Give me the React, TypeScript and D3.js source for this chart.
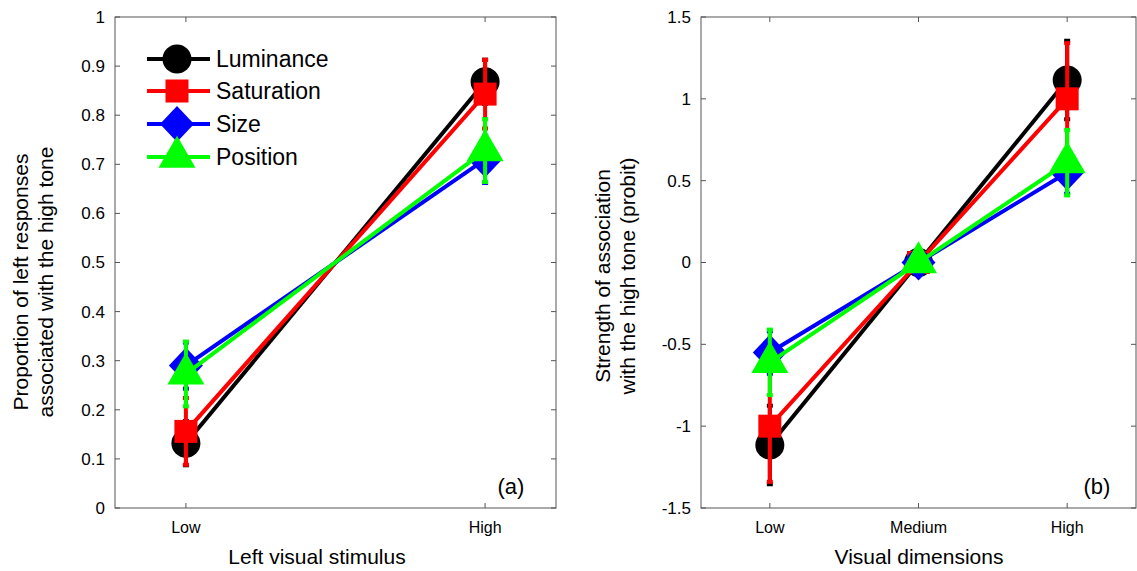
import React from "react";
import * as d3 from "d3";

// series shared by both panels
const seriesNames = ["Luminance", "Saturation", "Size", "Position"];
const seriesColors = ["#000000", "#ff0000", "#0000ff", "#00ff00"];
const seriesMarkers = ["circle", "square", "diamond", "triangle"];

// panel (a)
const catsA = ["Low", "High"];
const lumA = [0.132, 0.868];
const satA = [0.156, 0.843];
const sizeA = [0.29, 0.71];
const posA = [0.273, 0.728];
const lumAErr = [0.045, 0.045];
const satAErr = [0.068, 0.07];
const sizeAErr = [0.047, 0.048];
const posAErr = [0.066, 0.064];
const ticksA = [0, 0.1, 0.2, 0.3, 0.4, 0.5, 0.6, 0.7, 0.8, 0.9, 1];

// panel (b)
const catsB = ["Low", "Medium", "High"];
const lumB = [-1.115, 0, 1.115];
const satB = [-1.0, 0, 1.0];
const sizeB = [-0.55, 0, 0.55];
const posB = [-0.61, 0, 0.61];
const lumBErr = [0.24, 0, 0.24];
const satBErr = [0.34, 0, 0.34];
const sizeBErr = [0.13, 0, 0.13];
const posBErr = [0.2, 0, 0.2];
const ticksB = [-1.5, -1, -0.5, 0, 0.5, 1, 1.5];

const FONT = "'Liberation Sans', Arial, Helvetica, sans-serif";
const AXIS = "#555";

function Marker({ kind, x, y, color }: { kind: string; x: number; y: number; color: string }) {
  if (kind === "circle") return <circle cx={x} cy={y} r={14.5} fill={color} />;
  if (kind === "square") return <rect x={x - 11.5} y={y - 11.5} width={23} height={23} fill={color} />;
  if (kind === "diamond")
    return <path d={`M${x},${y - 18}L${x + 17},${y}L${x},${y + 18}L${x - 17},${y}Z`} fill={color} />;
  const h = 32, w = 37;
  return (
    <path
      d={`M${x},${y - (2 * h) / 3}L${x + w / 2},${y + h / 3}L${x - w / 2},${y + h / 3}Z`}
      fill={color}
    />
  );
}

type PanelProps = {
  left: number;
  right: number;
  top: number;
  bottom: number;
  cats: string[];
  xDomain: [number, number];
  yDomain: [number, number];
  yTicks: number[];
  values: number[][];
  errors: number[][];
  yLabel: string[];
  yLabelX: number;
  yLabelY: number;
  xLabel: string;
  xLabelX: number;
  tag: string;
  tagX: number;
  legend?: boolean;
};

function Panel(p: PanelProps) {
  const x = d3.scaleLinear().domain(p.xDomain).range([p.left, p.right]);
  const y = d3.scaleLinear().domain(p.yDomain).range([p.bottom, p.top]);
  const line = d3
    .line<number>()
    .x((_, i) => x(i + 1))
    .y((d) => y(d));
  const tl = 5;
  return (
    <g fontFamily={FONT}>
      {/* box */}
      <rect
        x={p.left}
        y={p.top}
        width={p.right - p.left}
        height={p.bottom - p.top}
        fill="none"
        stroke={AXIS}
        strokeWidth={1}
      />
      {p.yTicks.map((t) => (
        <g key={"y" + t}>
          <line x1={p.left} x2={p.left + tl} y1={y(t)} y2={y(t)} stroke={AXIS} />
          <line x1={p.right} x2={p.right - tl} y1={y(t)} y2={y(t)} stroke={AXIS} />
          <text x={p.left - 10} y={y(t)} dy="0.35em" textAnchor="end" fontSize={17}>
            {t}
          </text>
        </g>
      ))}
      {p.cats.map((c, i) => (
        <g key={"x" + c}>
          <line x1={x(i + 1)} x2={x(i + 1)} y1={p.bottom} y2={p.bottom - tl} stroke={AXIS} />
          <line x1={x(i + 1)} x2={x(i + 1)} y1={p.top} y2={p.top + tl} stroke={AXIS} />
          <text x={x(i + 1)} y={p.bottom + 25} textAnchor="middle" fontSize={16}>
            {c}
          </text>
        </g>
      ))}
      {/* data */}
      {p.values.map((vals, s) => (
        <g key={"s" + s}>
          <path d={line(vals) || ""} fill="none" stroke={seriesColors[s]} strokeWidth={4} />
          {vals.map((v, i) => {
            const e = p.errors[s][i];
            if (!e) return null;
            const cx = x(i + 1);
            return (
              <g key={"e" + i}>
                <line x1={cx} x2={cx} y1={y(v - e)} y2={y(v + e)} stroke={seriesColors[s]} strokeWidth={4} />
                <line x1={cx - 3} x2={cx + 3} y1={y(v - e)} y2={y(v - e)} stroke={seriesColors[s]} strokeWidth={4} />
                <line x1={cx - 3} x2={cx + 3} y1={y(v + e)} y2={y(v + e)} stroke={seriesColors[s]} strokeWidth={4} />
              </g>
            );
          })}
          {vals.map((v, i) => (
            <Marker key={"m" + i} kind={seriesMarkers[s]} x={x(i + 1)} y={y(v)} color={seriesColors[s]} />
          ))}
        </g>
      ))}
      {/* labels */}
      <text
        transform={`translate(${p.yLabelX},${p.yLabelY}) rotate(-90)`}
        textAnchor="middle"
        fontSize={21}
      >
        <tspan x={0} dy={0}>
          {p.yLabel[0]}
        </tspan>
        <tspan x={0} dy={25}>
          {p.yLabel[1]}
        </tspan>
      </text>
      <text x={p.xLabelX} y={p.bottom + 56} textAnchor="middle" fontSize={21}>
        {p.xLabel}
      </text>
      <text x={p.tagX} y={p.bottom - 22} dy="0.35em" textAnchor="middle" fontSize={22}>
        {p.tag}
      </text>
      {p.legend &&
        seriesNames.map((n, s) => {
          const ly = [59, 91, 124, 157][s];
          return (
            <g key={"l" + n}>
              <line x1={147} x2={210} y1={ly} y2={ly} stroke={seriesColors[s]} strokeWidth={4} />
              <Marker kind={seriesMarkers[s]} x={177} y={ly} color={seriesColors[s]} />
              <text x={216} y={ly} dy="0.35em" fontSize={23}>
                {n}
              </text>
            </g>
          );
        })}
    </g>
  );
}

export default function App() {
  return (
    <svg
      width={1137}
      height={571}
      style={{ position: "absolute", left: 0, top: 0, background: "#fff" }}
    >
      <Panel
        left={115}
        right={556}
        top={17}
        bottom={508}
        cats={catsA}
        xDomain={[0.763, 2.237]}
        yDomain={[0, 1]}
        yTicks={ticksA}
        values={[lumA, satA, sizeA, posA]}
        errors={[lumAErr, satAErr, sizeAErr, posAErr]}
        yLabel={["Proportion of left responses", "associated with the high tone"]}
        yLabelX={28}
        yLabelY={282}
        xLabel="Left visual stimulus"
        xLabelX={317}
        tag="(a)"
        tagX={511}
        legend
      />
      <Panel
        left={701}
        right={1136}
        top={17}
        bottom={508}
        cats={catsB}
        xDomain={[0.537, 3.463]}
        yDomain={[-1.5, 1.5]}
        yTicks={ticksB}
        values={[lumB, satB, sizeB, posB]}
        errors={[lumBErr, satBErr, sizeBErr, posBErr]}
        yLabel={["Strength of association", "with the high tone (probit)"]}
        yLabelX={610}
        yLabelY={276}
        xLabel="Visual dimensions"
        xLabelX={919}
        tag="(b)"
        tagX={1097}
      />
    </svg>
  );
}
